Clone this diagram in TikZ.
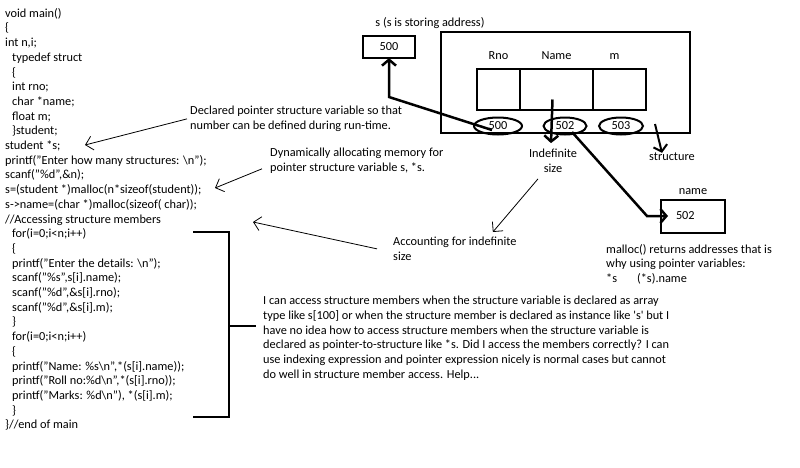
\documentclass[tikz,border=0pt]{standalone}
\usepackage{fontspec}
\setmainfont{Carlito}
\usetikzlibrary{shapes,arrows.meta,positioning}

\newcommand\cind{\hspace*{7pt}}

\begin{document}
\begin{tikzpicture}[x=1pt,y=-1pt,
		txt/.style={inner sep=0pt,align=left,font=\fontsize{12.3}{14.7}\selectfont},
		box/.style={draw,line width=2pt,inner sep=0pt,outer sep=0pt},
		addr/.style={draw,ellipse,line width=2pt,inner sep=0pt,minimum height=17pt},
		fatarrow/.style={line width=2.5pt,-{Straight Barb[length=6pt,width=14pt]}},
		thinarrow/.style={line width=0.8pt,-{Straight Barb[length=7pt,width=14pt]}}]
		\useasboundingbox (0,0) rectangle (800,467);

		% the program
		\node[txt,anchor=north west] (code) at (5,8) {void main()\\
			\{\\
			int n,i;\\
			\cind typedef struct\\
			\cind\{\\
			\cind int rno;\\
			\cind char *name;\\
			\cind float m;\\
			\cind\}student;\\
			student *s;\\
			printf("Enter how many structures: \textbackslash n");\\
			scanf("\%d",\&n);\\
			s=(student *)malloc(n*sizeof(student));\\
			s->name=(char *)malloc(sizeof( char));\\
			//Accessing structure members\\
			\cind for(i=0;i<n;i++)\\
			\cind\{\\
			\cind printf("Enter the details: \textbackslash n");\\
			\cind scanf("\%s",s[i].name);\\
			\cind scanf("\%d",\&s[i].rno);\\
			\cind scanf("\%d",\&s[i].m);\\
			\cind\}\\
			\cind for(i=0;i<n;i++)\\
			\cind\{\\
			\cind printf("Name: \%s\textbackslash n",*(s[i].name));\\
			\cind printf("Roll no:\%d\textbackslash n",*(s[i].rno));\\
			\cind printf("Marks: \%d\textbackslash n"), *(s[i].m);\\
			\cind\}\\
			\}//end of main};

		% notes
		\node[txt,anchor=north west] (decl) at (190,106) {Declared pointer structure variable so that\\number can be defined during run-time.};
		\node[txt,anchor=north west] (dyn) at (270,148) {Dynamically allocating memory for\\pointer structure variable s, *s.};
		\node[txt,anchor=north west] (acct) at (393,237) {Accounting for indefinite\\size};
		\node[txt,anchor=north west] (question) at (263,296) {I can access structure members when the structure variable is declared as array\\
			type like s[100] or when the structure member is declared as instance like \textquotesingle s\textquotesingle{} but I\\
			have no idea how to access structure members when the structure variable is\\
			declared as pointer-to-structure like *s. Did I access the members correctly? I can\\
			use indexing expression and pointer expression nicely is normal cases but cannot\\
			do well in structure member access. Help...};
		\node[txt,anchor=north west] (mallocnote) at (606,244) {malloc() returns addresses that is\\why using pointer variables:\\{}*s\hspace{20pt}(*s).name};

		\coordinate (decltip) at (85,145);
		\coordinate (dyntip) at (215,188);
		\coordinate (accttip) at (253,222);
		\draw[thinarrow] ([xshift=-3pt]decl.west) -- (decltip);
		\draw[thinarrow] ([shift={(-8,8)}]dyn.west) -- (dyntip);
		\draw[thinarrow] ([xshift=-16pt]acct.west) -- (accttip);

		% bracket round the loops
		\draw[line width=2.5pt] (193,232) -- (229,232) -- (229,417) -- (193,417);
		\draw[line width=2.5pt] (229,326) -- (256,326);

		% pointer s
		\node[txt] (slabel) at (430,23) {s (s is storing address)};
		\node[txt,box,minimum width=52pt,minimum height=22pt] (sbox) at (389,47) {500};

		% the structure in memory
		\node[box,minimum width=249pt,minimum height=101pt] (structbox) at (565.5,82.5) {};
		\node[box,minimum width=43pt,minimum height=41pt] (rnocell) at (498.5,89.5) {};
		\node[box,minimum width=73pt,minimum height=41pt,right=0pt of rnocell] (namecell) {};
		\node[box,minimum width=53pt,minimum height=41pt,right=0pt of namecell] (mcell) {};
		\node[txt,above=9pt of rnocell] (rnolbl) {Rno};
		\node[txt,above=9pt of namecell] (namelbl) {Name};
		\node[txt,above=9pt of mcell,xshift=-5pt] (mlbl) {m};

		\node[txt,addr,minimum width=48pt] (ad500) at (498,126) {500};
		\node[txt,addr,minimum width=43pt] (ad502) at (565,126) {502};
		\node[txt,addr,minimum width=44pt] (ad503) at (621,126) {503};

		\node[txt,align=center] (indef) at (553,161) {Indefinite\\size};
		\node[txt] (structlbl) at (672,157) {structure};

		% pointed-to name
		\node[txt,box,text width=34pt,inner xsep=15pt,minimum height=33pt] (namebox) at (693,216) {502};
		\node[txt,above=5pt of namebox] (nboxlbl) {name};

		\coordinate (sbend) at (389,97);
		\coordinate (nbend) at (647,216);
		\coordinate (stail) at (655,124);
		\draw[fatarrow] ([shift={(-6,4)}]ad500.center) -- (sbend) -- (sbox.south);
		\draw[fatarrow] ([shift={(-4,10)}]namecell.center) -- ([shift={(-2,-6)}]indef.north);
		\draw[fatarrow] ([shift={(7,6)}]ad502.center) -- (nbend) -- ([xshift=7pt]namebox.west);
		\draw[fatarrow,line width=2pt] (stail) -- ([xshift=-10pt]structlbl.north);
		\draw[thinarrow] ([shift={(-15,6)}]indef.south) -- ([shift={(38,-5)}]acct.north);

	\end{tikzpicture}
\end{document}
